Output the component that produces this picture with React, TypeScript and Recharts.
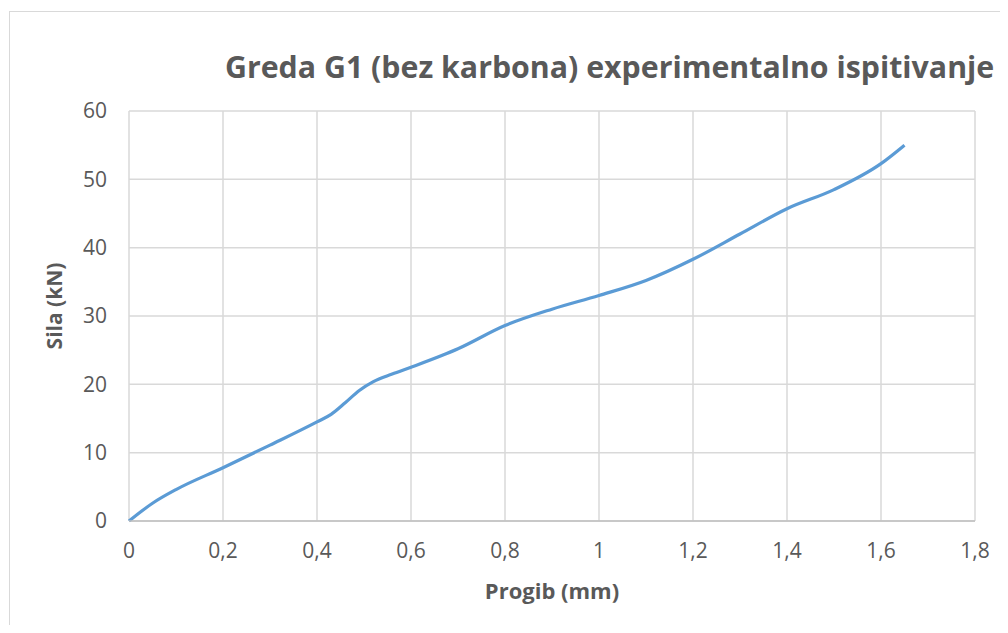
import { LineChart, Line, XAxis, YAxis, CartesianGrid } from "recharts";

// #region Chart data

// deflection (mm)
const progib = [0, 0.05, 0.1, 0.2, 0.3, 0.4, 0.43, 0.46, 0.49, 0.52, 0.56, 0.6, 0.7, 0.8, 0.9, 1.0, 1.1, 1.2, 1.3, 1.4, 1.5, 1.6, 1.65];
// force (kN)
const sila = [0, 2.6, 4.6, 7.8, 11.1, 14.5, 15.6, 17.3, 19.1, 20.4, 21.5, 22.5, 25.2, 28.6, 31, 33, 35.2, 38.3, 42, 45.7, 48.5, 52.3, 55];

const xTicks = [0, 0.2, 0.4, 0.6, 0.8, 1, 1.2, 1.4, 1.6, 1.8];
const yTicks = [0, 10, 20, 30, 40, 50, 60];

const title = "Greda G1 (bez karbona) experimentalno ispitivanje";
const xTitle = "Progib (mm)";
const yTitle = "Sila (kN)";

// #endregion

const data = progib.map((x, i) => ({ x, y: sila[i] }));

const FONT = "'Open Sans', sans-serif";
const TEXT = "#595959";
const GRID = "#d9d9d9";

const comma = (v: number) => String(v).replace(".", ",");

const App = () => {
    return (
        <div style={{ position: "relative", width: 1008, height: 633, margin: -8, overflow: "hidden", background: "#fff" }}>
            {/* chart frame, cut off on the right and bottom like the original */}
            <div
                style={{
                    position: "absolute",
                    left: 9,
                    top: 11,
                    width: 1100,
                    height: 700,
                    border: `1.5px solid ${GRID}`,
                }}
            />
            <div style={{ position: "absolute", left: 0, top: 0 }}>
                <LineChart width={1008} height={633} data={data} margin={{ top: 111, right: 33, bottom: 32, left: 69 }}>
                    <CartesianGrid stroke={GRID} strokeWidth={1.5} />
                    <XAxis
                        dataKey="x"
                        type="number"
                        domain={[0, 1.8]}
                        ticks={xTicks}
                        tickFormatter={comma}
                        height={80}
                        tickLine={false}
                        axisLine={{ stroke: "#bfbfbf", strokeWidth: 1.5 }}
                        tick={{ fill: TEXT, fontSize: 21, fontFamily: FONT }}
                        tickMargin={16}
                        interval={0}
                    />
                    <YAxis
                        type="number"
                        domain={[0, 60]}
                        ticks={yTicks}
                        width={60}
                        tickLine={false}
                        axisLine={false}
                        tick={{ fill: TEXT, fontSize: 21, fontFamily: FONT }}
                        tickMargin={16}
                        interval={0}
                    />
                    <Line
                        dataKey="y"
                        type="monotone"
                        stroke="#5b9bd5"
                        strokeWidth={3.2}
                        dot={false}
                        isAnimationActive={false}
                    />
                </LineChart>
            </div>
            <svg width={1008} height={633} style={{ position: "absolute", left: 0, top: 0, pointerEvents: "none" }}>
                <text x={225} y={78} fill={TEXT} fontFamily={FONT} fontWeight="bold" fontSize={30.3}>
                    {title}
                </text>
                <text x={552} y={599} textAnchor="middle" fill={TEXT} fontFamily={FONT} fontWeight="bold" fontSize={22}>
                    {xTitle}
                </text>
                <text
                    transform="translate(62,306) rotate(-90)"
                    textAnchor="middle"
                    fill={TEXT}
                    fontFamily={FONT}
                    fontWeight="bold"
                    fontSize={21}
                >
                    {yTitle}
                </text>
            </svg>
        </div>
    );
};

export default App;
